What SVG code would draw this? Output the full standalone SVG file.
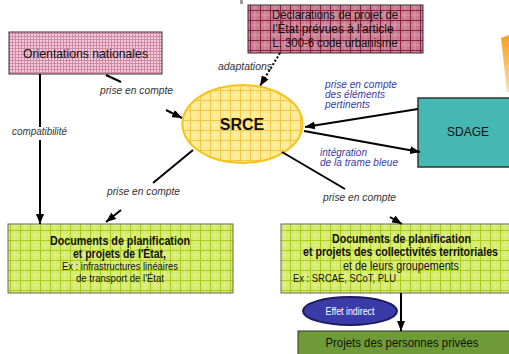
<svg xmlns="http://www.w3.org/2000/svg" width="509" height="354" viewBox="0 0 509 354">
<defs>
<pattern id="pPink" width="3" height="3" patternUnits="userSpaceOnUse"><rect width="3" height="3" fill="#F2CCDA"/><path d="M0,0.5H3M0.5,0V3" stroke="#D08AA6" stroke-width="1"/></pattern>
<pattern id="pMauve" width="10" height="10" patternUnits="userSpaceOnUse"><rect width="10" height="10" fill="#C77E92"/><path d="M0,5H10M5,0V10" stroke="#DBA4B2" stroke-width="0.8"/><path d="M0,0.5H10M0.5,0V10" stroke="#8E1E3E" stroke-width="1"/></pattern>
<pattern id="pGreen" width="10" height="10" patternUnits="userSpaceOnUse"><rect width="10" height="10" fill="#D6EA6E"/><path d="M0,5H10M5,0V10" stroke="#E4F29A" stroke-width="0.8"/><path d="M0,0.5H10M0.5,0V10" stroke="#AACC1C" stroke-width="1"/></pattern>
<pattern id="pYellow" width="10" height="10" patternUnits="userSpaceOnUse"><rect width="10" height="10" fill="#FFE98E"/><path d="M0,5H10M5,0V10" stroke="#FFF2B8" stroke-width="0.8"/><path d="M0,0.5H10M0.5,0V10" stroke="#EEC84A" stroke-width="1"/></pattern>
<linearGradient id="gOrange" x1="0" y1="0" x2="0" y2="1"><stop offset="0" stop-color="#F2A21C"/><stop offset="1" stop-color="#FBE0A8"/></linearGradient>
<marker id="arr" viewBox="0 0 10 8" refX="10" refY="4" markerWidth="10" markerHeight="8" markerUnits="userSpaceOnUse" orient="auto"><path d="M0,0L10,4L0,8z" fill="#000"/></marker>
<style>
.lbl{font-family:"Liberation Sans",Arial,sans-serif;font-style:italic;font-size:11px;fill:#333}
.blue{font-family:"Liberation Sans",Arial,sans-serif;font-style:italic;font-size:10px;fill:#3A3AA6}
.t{font-family:"Liberation Sans",Arial,sans-serif;fill:#111;text-anchor:middle}
.b{font-weight:bold}
.con{stroke:#000;stroke-width:2;fill:none}
</style>
</defs>
<rect x="240" y="0" width="3" height="4" fill="#9A9A9A"/>
<polygon points="501,38 509,35 509,92 507,92" fill="url(#gOrange)"/>

<g id="orientations">
<rect x="9" y="32" width="153" height="42" fill="url(#pPink)" stroke="#333" stroke-width="1"/>
<text class="t" x="85.5" y="58" font-size="13" textLength="125" lengthAdjust="spacingAndGlyphs">Orientations nationales</text>
</g>

<g id="declarations">
<rect x="248" y="5" width="175" height="48" fill="url(#pMauve)" stroke="#333" stroke-width="1"/>
<text class="t" x="335" y="19" font-size="12" textLength="126" lengthAdjust="spacingAndGlyphs">Déclarations de projet de</text>
<text class="t" x="333" y="33" font-size="12" textLength="121" lengthAdjust="spacingAndGlyphs">l'État prévues à l'article</text>
<text class="t" x="335" y="47" font-size="12" textLength="125" lengthAdjust="spacingAndGlyphs">L. 300-6 code urbanisme</text>
</g>

<g id="srce">
<ellipse cx="242.5" cy="124" rx="60" ry="39" fill="url(#pYellow)" stroke="#F5C21E" stroke-width="2"/>
<text class="t b" x="242" y="130" font-size="16" fill="#111">SRCE</text>
</g>

<g id="sdage">
<rect x="418" y="98" width="95" height="69" fill="#45B8B4" stroke="#333" stroke-width="1.5"/>
<text class="t" x="468" y="136" font-size="12">SDAGE</text>
</g>

<g id="docEtat">
<rect x="8" y="224" width="225" height="69" fill="url(#pGreen)" stroke="#666" stroke-width="1"/>
<text class="t b" x="120" y="245" font-size="12" textLength="140" lengthAdjust="spacingAndGlyphs">Documents de planification</text>
<text class="t b" x="119.5" y="258" font-size="12" textLength="93" lengthAdjust="spacingAndGlyphs">et projets de l'État,</text>
<text class="t" x="120" y="270" font-size="10.5" textLength="116" lengthAdjust="spacingAndGlyphs">Ex : infrastructures linéaires</text>
<text class="t" x="120" y="282" font-size="10.5" textLength="88" lengthAdjust="spacingAndGlyphs">de transport de l'État</text>
</g>

<g id="docCollectivites">
<rect x="281" y="224" width="230" height="69" fill="url(#pGreen)" stroke="#666" stroke-width="1"/>
<text class="t b" x="401.5" y="243" font-size="12" textLength="139" lengthAdjust="spacingAndGlyphs">Documents de planification</text>
<text class="t b" x="400.5" y="256" font-size="12" textLength="195" lengthAdjust="spacingAndGlyphs">et projets des collectivités territoriales</text>
<text class="t" x="401" y="270" font-size="12" textLength="116" lengthAdjust="spacingAndGlyphs">et de leurs groupements</text>
<text class="t" x="293" y="282" font-size="10.5" style="text-anchor:start" textLength="103" lengthAdjust="spacingAndGlyphs">Ex : SRCAE, SCoT, PLU</text>
</g>

<g id="effet">
<ellipse cx="350" cy="311" rx="47" ry="14" fill="#3B3BA8" stroke="#1C1C5E" stroke-width="2"/>
<text class="t" x="350" y="315" font-size="10" style="fill:#fff" textLength="49" lengthAdjust="spacingAndGlyphs">Effet indirect</text>
</g>

<g id="projets">
<rect x="298" y="331" width="215" height="30" fill="#6E9A38" stroke="#333" stroke-width="1"/>
<text class="t" x="402" y="347" font-size="13" textLength="153" lengthAdjust="spacingAndGlyphs">Projets des personnes privées</text>
</g>

<g id="connectors">
<line class="con" x1="418" y1="109" x2="305" y2="127" marker-end="url(#arr)"/>
<line class="con" x1="304" y1="131" x2="420" y2="152" marker-end="url(#arr)"/>
<line class="con" x1="280" y1="53" x2="260" y2="86" stroke-dasharray="2,2" marker-end="url(#arr)"/>
<line class="con" x1="106" y1="75" x2="121" y2="82"/>
<line class="con" x1="166" y1="110" x2="182" y2="118" marker-end="url(#arr)"/>
<line class="con" x1="40" y1="74" x2="40" y2="127"/>
<line class="con" x1="40" y1="140" x2="40" y2="224" marker-end="url(#arr)"/>
<line class="con" x1="193" y1="150" x2="153" y2="183"/>
<line class="con" x1="121" y1="210" x2="106" y2="222" marker-end="url(#arr)"/>
<line class="con" x1="282" y1="152" x2="345" y2="189"/>
<line class="con" x1="390" y1="217" x2="402" y2="224" marker-end="url(#arr)"/>
<line class="con" x1="401" y1="293" x2="401" y2="331" marker-end="url(#arr)"/>
</g>

<g id="labels">
<text class="lbl" x="218" y="70" textLength="54" lengthAdjust="spacingAndGlyphs">adaptations</text>
<text class="lbl" x="100" y="94" textLength="73" lengthAdjust="spacingAndGlyphs">prise en compte</text>
<text class="lbl" x="12" y="135" textLength="55" lengthAdjust="spacingAndGlyphs">compatibilité</text>
<text class="lbl" x="107" y="195" textLength="73" lengthAdjust="spacingAndGlyphs">prise en compte</text>
<text class="lbl" x="323" y="201" textLength="73" lengthAdjust="spacingAndGlyphs">prise en compte</text>
<text class="blue" x="325" y="88" textLength="72" lengthAdjust="spacingAndGlyphs">prise en compte</text>
<text class="blue" x="325" y="98" textLength="60" lengthAdjust="spacingAndGlyphs">des éléments</text>
<text class="blue" x="325" y="108" textLength="45" lengthAdjust="spacingAndGlyphs">pertinents</text>
<text class="blue" x="320" y="156" textLength="47" lengthAdjust="spacingAndGlyphs">intégration</text>
<text class="blue" x="320" y="166" textLength="78" lengthAdjust="spacingAndGlyphs">de la trame bleue</text>
</g>
</svg>
